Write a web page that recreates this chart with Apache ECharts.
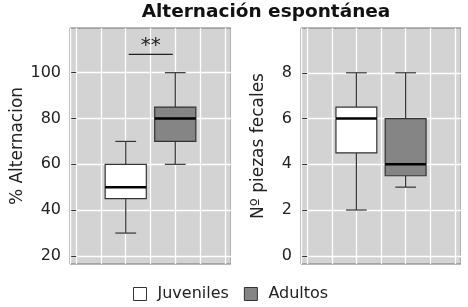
<!DOCTYPE html>
<html>
<head>
<meta charset="utf-8">
<script src="https://cdn.jsdelivr.net/npm/echarts@6/dist/echarts.min.js"></script>
<style>html,body{margin:0;padding:0;background:#fff}#c{width:468px;height:307px}</style>
</head>
<body>
<div id="c"></div>
<script>
// ---- data ----
const categories = ['Juveniles', 'Adultos'];
const positions = [1, 2];
// [min, Q1, median, Q3, max]
const altJuveniles = [30, 45, 50, 60, 70];
const altAdultos = [60, 70, 80, 85, 100];
const fecJuveniles = [2, 4.5, 6, 6.5, 8];
const fecAdultos = [3, 3.5, 4, 6, 8];
const altTicks = [20, 40, 60, 80, 100];
const fecTicks = [0, 2, 4, 6, 8];
const sigBracket = [1.06, 1.95, 108];
const sigLabel = '**';

const FONT = '"DejaVu Sans"';
const fills = { Juveniles: '#ffffff', Adultos: '#858585' };

function boxRender(params, api) {
  const x = api.value(0);
  const v = [api.value(1), api.value(2), api.value(3), api.value(4), api.value(5)];
  const hw = 0.415, cw = 0.21;
  const p = (xx, yy) => api.coord([xx, yy]);
  const stroke = '#333333';
  const a = p(x - hw, v[3]), b = p(x + hw, v[1]);
  const m1 = p(x - hw, v[2]), m2 = p(x + hw, v[2]);
  const fill = api.visual('color');
  return {
    type: 'group',
    children: [
      { type: 'line', shape: { x1: p(x, v[3])[0], y1: p(x, v[3])[1], x2: p(x, v[4])[0], y2: p(x, v[4])[1] }, style: { stroke, lineWidth: 1.2 } },
      { type: 'line', shape: { x1: p(x, v[0])[0], y1: p(x, v[0])[1], x2: p(x, v[1])[0], y2: p(x, v[1])[1] }, style: { stroke, lineWidth: 1.2 } },
      { type: 'line', shape: { x1: p(x - cw, v[4])[0], y1: p(x, v[4])[1], x2: p(x + cw, v[4])[0], y2: p(x, v[4])[1] }, style: { stroke, lineWidth: 1.2 } },
      { type: 'line', shape: { x1: p(x - cw, v[0])[0], y1: p(x, v[0])[1], x2: p(x + cw, v[0])[0], y2: p(x, v[0])[1] }, style: { stroke, lineWidth: 1.2 } },
      { type: 'rect', shape: { x: a[0], y: a[1], width: b[0] - a[0], height: b[1] - a[1] }, style: { fill, stroke, lineWidth: 1.2 } },
      { type: 'line', shape: { x1: m1[0], y1: m1[1], x2: m2[0], y2: m2[1] }, style: { stroke: '#000', lineWidth: 2.6 } }
    ]
  };
}

function boxSeries(name, data, idx) {
  return {
    name, type: 'custom', xAxisIndex: idx, yAxisIndex: idx,
    itemStyle: { color: fills[name] },
    renderItem: boxRender,
    data: [[positions[categories.indexOf(name)]].concat(data)],
    z: 3, silent: true
  };
}

function xAx(idx) {
  return {
    type: 'value', gridIndex: idx, min: -0.125, max: 3.125, splitNumber: 6,
    axisLine: { show: false }, axisTick: { show: false }, axisLabel: { show: false },
    splitLine: { show: true, lineStyle: { color: '#ffffff', width: 1.3 } }
  };
}
function yAx(idx, min, max, ticks, name, gap) {
  return {
    type: 'value', gridIndex: idx, min, max, splitNumber: 5,
    name, nameLocation: 'middle', nameGap: gap, nameRotate: 90,
    nameTextStyle: { fontFamily: FONT, fontSize: 17, color: '#222' },
    axisLine: { show: false },
    axisTick: { show: true, length: 5, customValues: ticks, lineStyle: { color: '#333' } },
    axisLabel: { show: true, customValues: ticks, margin: 9, fontFamily: FONT, fontSize: 16, color: '#222' },
    splitLine: { show: true, lineStyle: { color: '#ffffff', width: 1.3 } }
  };
}

const chart = echarts.init(document.getElementById('c'));
chart.setOption({
  animation: false,
  backgroundColor: '#ffffff',
  title: {
    text: 'Alternación espontánea', left: 261, top: -2, textAlign: 'center',
    textStyle: { fontFamily: FONT, fontWeight: 'bold', fontSize: 18.5, color: '#111' }
  },
  legend: {
    bottom: 0, left: 128, itemWidth: 13, itemHeight: 13, itemGap: 15,
    textStyle: { fontFamily: FONT, fontSize: 16, color: '#222', padding: [0, 0, 0, 6] },
    data: [
      { name: 'Juveniles', icon: 'rect', itemStyle: { color: '#ffffff', borderColor: '#333', borderWidth: 1 } },
      { name: 'Adultos', icon: 'rect', itemStyle: { color: '#858585', borderColor: '#333', borderWidth: 1 } }
    ]
  },
  grid: [
    { left: 70, top: 28, width: 161, height: 236, show: true, backgroundColor: '#d3d3d3', borderColor: '#707070', borderWidth: 1 },
    { left: 301, top: 28, width: 160, height: 236, show: true, backgroundColor: '#d3d3d3', borderColor: '#707070', borderWidth: 1 }
  ],
  xAxis: [xAx(0), xAx(1)],
  yAxis: [
    yAx(0, 16.5, 119.5, altTicks, '% Alternacion', 36),
    yAx(1, -0.36, 9.96, fecTicks, 'Nº piezas fecales', 34)
  ],
  series: [
    boxSeries('Juveniles', altJuveniles, 0),
    boxSeries('Adultos', altAdultos, 0),
    boxSeries('Juveniles', fecJuveniles, 1),
    boxSeries('Adultos', fecAdultos, 1),
    {
      type: 'custom', xAxisIndex: 0, yAxisIndex: 0, silent: true, z: 4,
      data: [sigBracket],
      renderItem: function (params, api) {
        const p1 = api.coord([api.value(0), api.value(2)]);
        const p2 = api.coord([api.value(1), api.value(2)]);
        return {
          type: 'group', children: [
            { type: 'line', shape: { x1: p1[0], y1: p1[1], x2: p2[0], y2: p2[1] }, style: { stroke: '#222', lineWidth: 1.2 } },
            { type: 'text', x: (p1[0] + p2[0]) / 2, y: p1[1] + 1, style: { text: sigLabel, fontFamily: FONT, fontSize: 20, fill: '#222', align: 'center', verticalAlign: 'bottom' } }
          ]
        };
      }
    }
  ]
});
</script>
</body>
</html>
